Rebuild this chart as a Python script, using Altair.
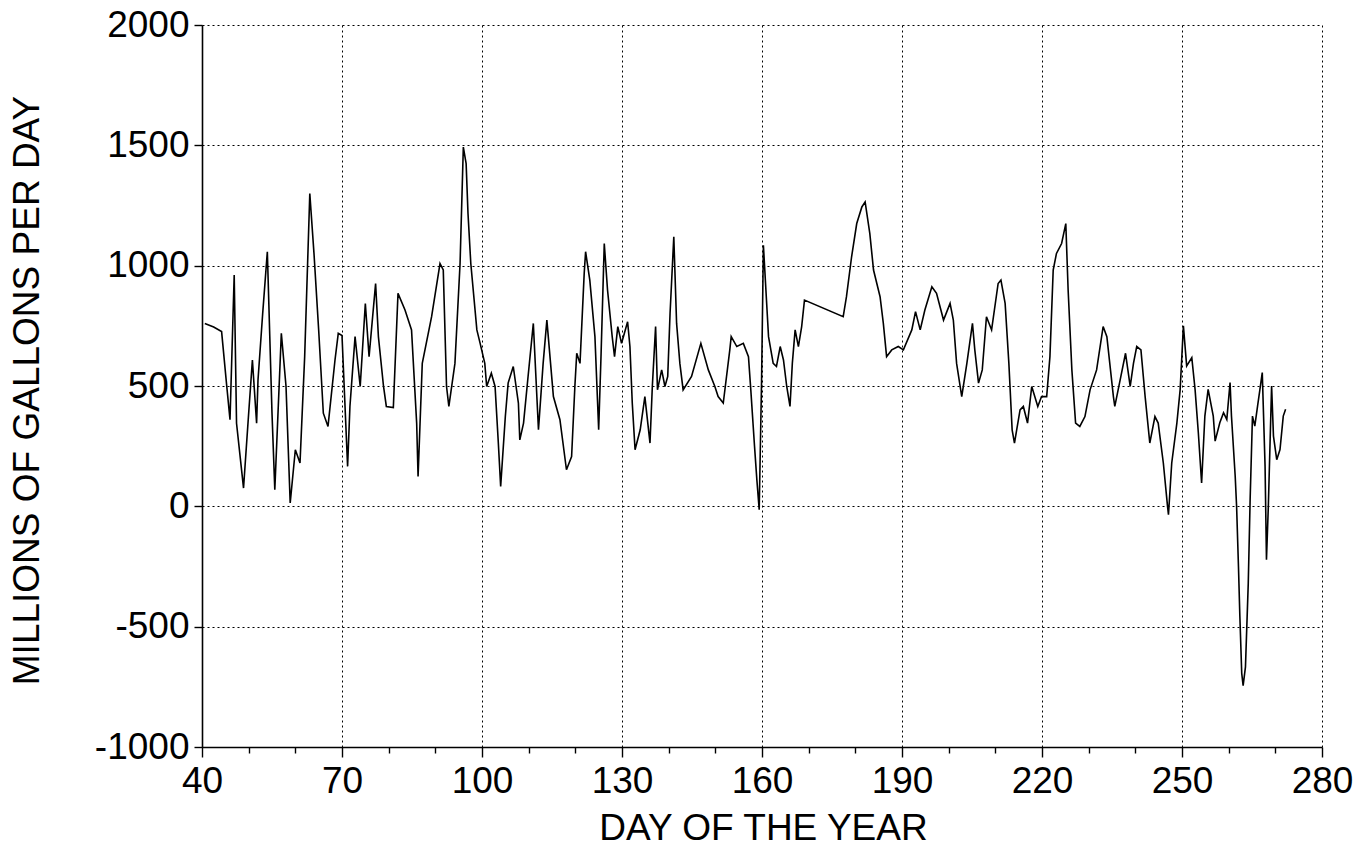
import altair as alt
import pandas as pd

# Daily net flow, millions of gallons per day, by day of the year
day = [
    40.6, 42.5, 44.2, 45.3, 46, 46.9, 47.4, 48.9, 50, 50.8, 51.7, 52, 53, 54, 55, 55.6,
    57, 58, 58.9, 60, 61, 62, 63.1, 64, 65, 66, 67, 68.5, 69.2,
    70, 71.2, 71.7, 72.8, 73.9, 75, 75.8, 77.2, 77.8, 78.9, 79.5, 81, 82, 83.5, 84.9,
    86, 86.3, 87.2, 89.2, 91, 91.7, 92.4, 92.9, 94.2, 95.3, 96, 96.6, 97, 97.6, 98.9, 99.6,
    100.6, 101, 102, 102.8, 103.5, 104, 105, 105.6, 106.7, 107.8, 108.1, 108.9, 109.8,
    111, 112.1, 113.1, 113.9, 115.3, 116.7, 118.1, 119.2, 119.9, 120.3, 121, 121.9,
    122.2, 123.1, 124.2, 125, 125.5, 126.2, 126.9, 127.9, 128.4, 129.1, 129.9,
    130.3, 131.2, 131.7, 132.2, 132.8, 133.9, 134.9, 136, 136.5, 137.2, 137.6, 138.5,
    139.2, 139.8, 140.3, 141.1, 141.7, 142.4, 143.1, 144.9, 146.9, 148.5, 149.9, 150.6,
    151.7, 153.1, 153.4, 154.6, 156, 157.1, 157.6, 158.4, 158.9, 159.4, 159.9, 160.3,
    161.4, 162.4, 163.1, 163.9, 164.6, 165.3, 166, 166.5, 167.1, 167.8, 168.5, 169.1,
    177.4, 178.1, 179.2, 180.3, 181.4, 182.1, 183.1, 183.9, 185.3, 186, 186.7, 187.8,
    189.2, 190.3,
    192.1, 192.9, 193.9, 194.9, 196.4, 197.4, 198.9, 200.3, 201, 201.7, 202.8, 203.9,
    205.1, 205.6, 206.4, 207.2, 208.1, 209.2, 210.6, 211.2, 212.1, 212.9, 213.6, 214.1,
    215.3, 216, 216.9, 217.8, 219.1, 219.9,
    221, 221.7, 222.4, 223.1, 224.2, 225.1, 225.6, 226.4, 227.2, 228.1, 229.2, 230.3,
    231.7, 233.1, 233.9, 235.3, 235.6, 236.9, 237.9, 238.9, 239.6, 240.3, 241.2, 242.1,
    243.1, 244.2, 244.9, 246, 246.9, 247.1, 247.8, 248.9, 249.6,
    250.3, 251, 252.1, 252.8, 253.5, 254.2, 254.9, 255.6, 256.7, 257.1, 258.1, 258.9,
    259.6, 260.3, 260.6, 261.4, 261.7, 262.1, 262.4, 262.8, 263.1, 263.6, 264.2, 264.6,
    265.1, 265.6, 266.2, 266.7, 267.2, 267.8, 268.1, 268.5, 269.2, 269.6, 270.3, 271,
    271.7, 272.2,
]
flow = [
    760, 745, 726, 500, 360, 961, 345, 76, 387, 608, 345, 525, 800, 1058, 387, 69,
    719, 500, 14, 235, 180, 622, 1300, 1050, 733, 387, 332, 608, 719,
    710, 166, 415, 705, 498, 843, 622, 926, 705, 498, 415, 410, 885, 816, 733,
    345, 124, 594, 788, 1009, 982, 498, 415, 594, 1009, 1493, 1424, 1217, 1009, 733, 677,
    594, 498, 553, 498, 263, 83, 373, 512, 581, 429, 276, 346, 525,
    760, 318, 594, 774, 456, 360, 152, 207, 498, 636, 594, 968,
    1058, 940, 705, 318, 622, 1092, 899, 705, 622, 747, 677,
    705, 767, 664, 429, 235, 318, 456, 263, 498, 747, 484, 567,
    498, 540, 802, 1120, 760, 594, 484, 540, 677, 567, 498, 456,
    429, 650, 705, 664, 677, 622, 484, 249, 110, -14, 512, 1085,
    705, 594, 581, 664, 608, 498, 415, 594, 733, 664, 747, 857,
    788, 871, 1037, 1175, 1244, 1265, 1134, 982, 871, 760, 622, 650,
    664, 650,
    733, 809, 733, 816, 912, 885, 774, 843, 774, 594, 456, 594,
    760, 650, 512, 567, 788, 733, 926, 940, 843, 594, 318, 263,
    401, 415, 346, 498, 415, 456,
    456, 622, 982, 1051, 1092, 1175, 899, 567, 346, 332, 373, 484,
    567, 747, 705, 456, 415, 540, 636, 498, 594, 664, 650, 456,
    263, 373, 346, 180, 0, -35, 180, 346, 484,
    750, 583, 618, 486, 306, 97, 375, 486, 375, 271, 347, 389,
    361, 514, 375, 125, 0, -250, -458, -694, -745, -667, -319, 28,
    375, 333, 417, 486, 556, 167, -222, 0, 500, 292, 194, 236,
    375, 403,
]

x_ticks = list(range(40, 281, 10))
y_ticks = list(range(-1000, 2001, 500))

df = pd.DataFrame({"day": day, "flow": flow})

FONT = "Liberation Sans"

line = alt.Chart(df).mark_line(color="black", strokeWidth=1.6, interpolate="linear").encode(
    x=alt.X(
        "day:Q",
        scale=alt.Scale(domain=[40, 280], nice=False, zero=False),
        axis=alt.Axis(
            title="DAY OF THE YEAR",
            values=x_ticks,
            labelExpr="(datum.value - 40) % 30 === 0 ? datum.label : ''",
            tickSize=alt.ExprRef("(datum.value - 40) % 30 === 0 ? 10 : 6"),
            gridOpacity=alt.ExprRef("(datum.value - 40) % 30 === 0 ? 1 : 0"),
            labelFlush=False,
            labelPadding=6,
            titleX=561,
            titleY=92,
            titleBaseline="alphabetic",
        ),
    ),
    y=alt.Y(
        "flow:Q",
        scale=alt.Scale(domain=[-1000, 2000], nice=False, zero=False),
        axis=alt.Axis(
            title="MILLIONS OF GALLONS PER DAY",
            values=y_ticks,
            labelExpr="datum.value < 0 ? '-' + format(-datum.value, 'd') : format(datum.value, 'd')",
            labelFlush=False,
            tickSize=8,
            labelPadding=5,
            titleAngle=-90,
            titleX=-175,
            titleY=365,
            titleBaseline="middle",
            titleAlign="center",
        ),
    ),
)

chart = (
    line.properties(
        width=1120,
        height=722,
        padding={"left": 202, "top": 25, "right": 48, "bottom": 101},
        autosize=alt.AutoSizeParams(type="none"),
        background="white",
    )
    .configure_view(stroke=None)
    .configure_axis(
        domainColor="black",
        domainWidth=1.6,
        tickColor="black",
        tickWidth=1.4,
        grid=True,
        gridColor="black",
        gridDash=[2, 3],
        gridWidth=1,
        labelFont=FONT,
        labelFontSize=37,
        labelColor="black",
        titleFont=FONT,
        titleFontSize=37,
        titleFontWeight="normal",
        titleColor="black",
    )
)

chart.save("out.html", embed_options={"renderer": "svg", "actions": False})
